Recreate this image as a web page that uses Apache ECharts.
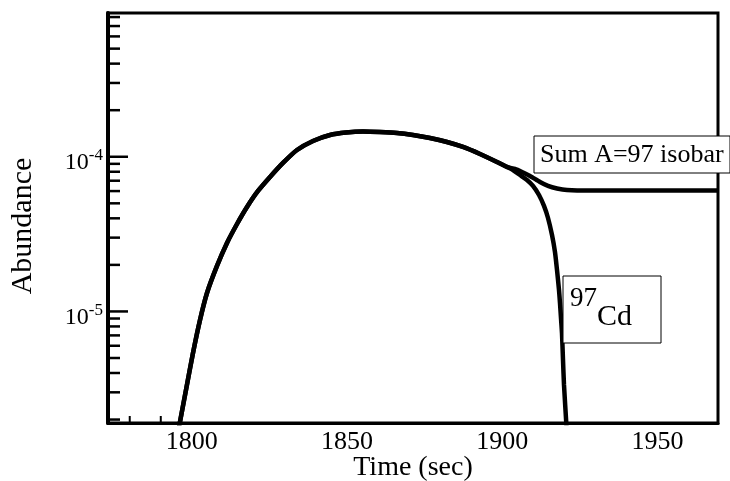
<!DOCTYPE html>
<html><head><meta charset="utf-8">
<script src="https://cdn.jsdelivr.net/npm/echarts@6/dist/echarts.min.js"></script>
<style>html,body{margin:0;padding:0;background:#fff}#c{width:730px;height:481px}</style>
</head><body><div id="c"></div>
<script>
// ---- data ----
const riseTime  = [1795.9, 1798.13, 1800.38, 1802.64, 1804.89, 1808.11, 1811.33, 1814.56, 1817.78, 1821.32, 1825.19, 1829.37, 1833.88, 1839.04, 1844.52, 1849.67, 1855.14, 1860.62, 1866.10, 1871.25, 1876.73, 1882.20, 1887.36, 1892.83, 1898.31, 1901.53];
const riseValue = [1.8e-6, 3.11e-6, 5.39e-6, 8.81e-6, 1.316e-5, 1.968e-5, 2.771e-5, 3.677e-5, 4.734e-5, 6.008e-5, 7.40e-5, 9.12e-5, 1.106e-4, 1.265e-4, 1.383e-4, 1.435e-4, 1.457e-4, 1.446e-4, 1.425e-4, 1.383e-4, 1.322e-4, 1.246e-4, 1.157e-4, 1.042e-4, 9.25e-5, 8.59e-5];
const cdTailTime  = [1903.46, 1905.72, 1907.97, 1909.90, 1911.84, 1913.45, 1914.74, 1916.03, 1916.99, 1917.64, 1918.28, 1918.60, 1918.92, 1919.24, 1919.57, 1919.89, 1920.70];
const cdTailValue = [8.21e-5, 7.62e-5, 7.08e-5, 6.48e-5, 5.66e-5, 4.81e-5, 4.02e-5, 3.12e-5, 2.42e-5, 1.854e-5, 1.377e-5, 1.134e-5, 9.07e-6, 7.26e-6, 4.86e-6, 3.35e-6, 1.8e-6];
const isoTailTime  = [1904.11, 1906.36, 1908.94, 1912.16, 1914.74, 1917.64, 1920.86, 1928.27, 1969.5];
const isoTailValue = [8.34e-5, 7.97e-5, 7.51e-5, 6.87e-5, 6.48e-5, 6.24e-5, 6.10e-5, 6.05e-5, 6.05e-5];
const xTickLabels = [1800, 1850, 1900, 1950];
const xMinorTicks = [1780, 1790];
const yMajorTicks = [1e-5, 1e-4];
const yMinorTicks = [2e-6,3e-6,4e-6,5e-6,6e-6,7e-6,8e-6,9e-6,
                     2e-5,3e-5,4e-5,5e-5,6e-5,7e-5,8e-5,9e-5,
                     2e-4,3e-4,4e-4,5e-4,6e-4,7e-4,8e-4];
const seriesNames = ['97Cd', 'Sum A=97 isobar'];

// ---- axes ranges ----
const X_MIN = 1773, X_MAX = 1969.5;
const Y_MIN = 1.9e-6, Y_MAX = 8.5e-4;
const FONT = '"Liberation Serif", "Times New Roman", serif';

const chart = echarts.init(document.getElementById('c'), null, {renderer: 'canvas'});

function zip(a, b) { return a.map((v, i) => [v, b[i]]); }
const cdData  = zip(riseTime, riseValue).concat(zip(cdTailTime, cdTailValue));
const isoData = zip(riseTime, riseValue).concat(zip(isoTailTime, isoTailValue));

const yTickData = yMajorTicks.map(v => [X_MIN, v, 1]).concat(yMinorTicks.map(v => [X_MIN, v, 0]));
const xTickData = xMinorTicks.map(v => [v, Y_MIN]);

const option = {
  animation: false,
  backgroundColor: '#fff',
  grid: { left: 108, right: 12, top: 13, bottom: 58, show: true, borderColor: '#000', borderWidth: 3, containLabel: false, outerBoundsMode: 'none' },
  xAxis: {
    type: 'value', min: X_MIN, max: X_MAX,
    name: 'Time (sec)', nameLocation: 'middle', nameGap: 31, nameMoveOverlap: false,
    nameTextStyle: { fontFamily: FONT, fontSize: 28, color: '#000' },
    axisLine: { show: true, lineStyle: { color: '#000', width: 3 } },
    axisTick: { show: false },
    splitLine: { show: false },
    axisLabel: {
      margin: 6, fontFamily: FONT, fontSize: 26, color: '#000',
      customValues: xTickLabels,
      formatter: v => String(v)
    }
  },
  yAxis: {
    type: 'log', logBase: 10, min: Y_MIN, max: Y_MAX,
    name: 'Abundance', nameLocation: 'middle', nameGap: 70, nameMoveOverlap: false,
    nameTextStyle: { fontFamily: FONT, fontSize: 30, color: '#000', padding: [0, 16, 0, 0] },
    axisLine: { show: true, lineStyle: { color: '#000', width: 4 } },
    axisTick: { show: false },
    splitLine: { show: false },
    minorTick: { show: false },
    axisLabel: {
      margin: 5,
      customValues: yMajorTicks,
      formatter: v => '{b|10}{s|' + Math.round(Math.log10(v)) + '}',
      rich: {
        b: { fontFamily: FONT, fontSize: 24, color: '#000', padding: [12, 0, 0, 0] },
        s: { fontFamily: FONT, fontSize: 17, color: '#000', padding: [0, 0, 2, 0] }
      }
    }
  },
  series: [
    {
      type: 'custom', name: 'yticks', clip: false, silent: true, z: 3,
      data: yTickData,
      renderItem: (params, api) => {
        const p = api.coord([api.value(0), api.value(1)]);
        const len = api.value(2) === 1 ? 20 : 12;
        const x0 = params.coordSys.x;
        return { type: 'line', shape: { x1: x0, y1: p[1], x2: x0 + len, y2: p[1] }, style: { stroke: '#000', lineWidth: 2.5 } };
      }
    },
    {
      type: 'custom', name: 'xticks', clip: false, silent: true, z: 3,
      data: xTickData,
      renderItem: (params, api) => {
        const p = api.coord([api.value(0), api.value(1)]);
        const y0 = params.coordSys.y + params.coordSys.height;
        return { type: 'line', shape: { x1: p[0], y1: y0, x2: p[0], y2: y0 - 7 }, style: { stroke: '#000', lineWidth: 2 } };
      }
    },
    {
      type: 'line', name: seriesNames[0], data: cdData, showSymbol: false, symbol: 'none',
      smooth: 0.2, clip: true, lineStyle: { color: '#000', width: 4.5 }, z: 4
    },
    {
      type: 'line', name: seriesNames[1], data: isoData, showSymbol: false, symbol: 'none',
      smooth: 0.2, clip: true, lineStyle: { color: '#000', width: 4.5 }, z: 5
    }
  ],
  graphic: [
    { type: 'rect', z: 100, shape: { x: 534, y: 136, width: 196, height: 37 }, style: { fill: '#fff', stroke: '#000', lineWidth: 1 } },
    { type: 'text', z: 101, x: 540, y: 142, style: { text: seriesNames[1], font: '26px ' + FONT, fill: '#000', verticalAlign: 'top' } },
    { type: 'rect', z: 100, shape: { x: 563, y: 276, width: 98, height: 67 }, style: { fill: '#fff', stroke: '#000', lineWidth: 1 } },
    { type: 'text', z: 101, x: 570, y: 285, style: { text: '97', font: '27px ' + FONT, fill: '#000', verticalAlign: 'top' } },
    { type: 'text', z: 101, x: 597, y: 302, style: { text: 'Cd', font: '30px ' + FONT, fill: '#000', verticalAlign: 'top' } }
  ]
};
chart.setOption(option);
</script>
</body></html>
